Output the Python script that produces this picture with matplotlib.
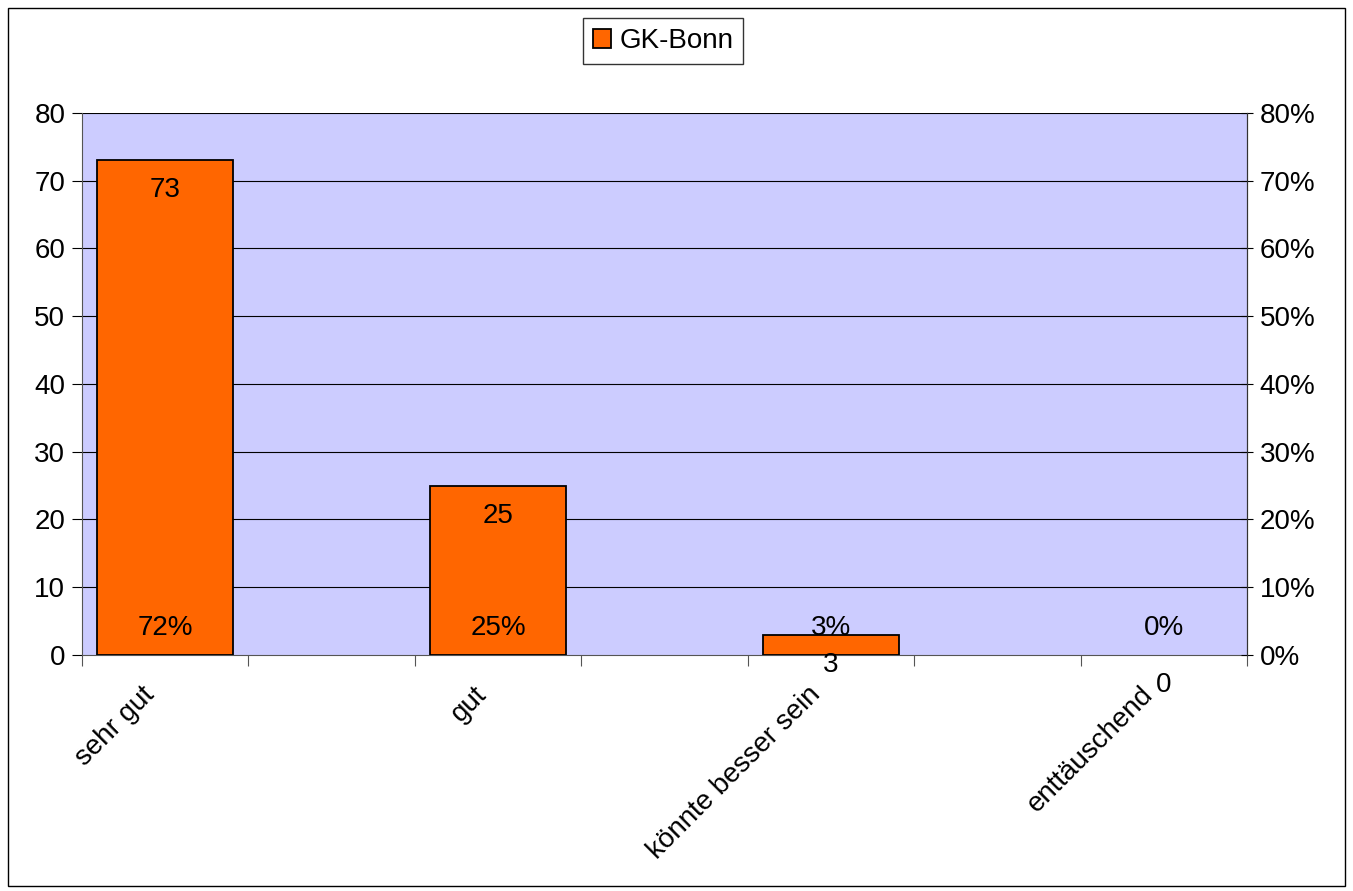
import numpy as np
import matplotlib
matplotlib.use("Agg")
import matplotlib.pyplot as plt
from matplotlib.patches import Rectangle
from matplotlib.transforms import ScaledTranslation

plt.rcParams['font.family'] = ['Liberation Sans', 'DejaVu Sans']

# data: 7 slots on the category axis, answers sit on every second one
categories = ['sehr gut', '', 'gut', '', 'könnte besser sein', '', 'enttäuschend']
answer_slots = [0, 2, 4, 6]
counts = [73, 25, 3, 0]
percent_labels = ['72%', '25%', '3%', '0%']
left_ticks = [0, 10, 20, 30, 40, 50, 60, 70, 80]
right_tick_labels = ['0%', '10%', '20%', '30%', '40%', '50%', '60%', '70%', '80%']
series_name = 'GK-Bonn'

bar_color = '#FF6600'
plot_bg = '#CCCCFF'
fs = 20

fig = plt.figure(figsize=(13.53, 8.91), dpi=100)
ax = fig.add_axes([0.0606, 0.2649, 0.8611, 0.6083])
ax.set_facecolor(plot_bg)

x = np.array(answer_slots)
bars = ax.bar(x, counts, width=0.82, color=bar_color, edgecolor='black',
              linewidth=1.3, zorder=3, label=series_name)
# a zero bar is not drawn at all
for b, c in zip(bars, counts):
    if c == 0:
        b.set_visible(False)

ax.set_xlim(-0.5, len(categories) - 0.5)
ax.set_ylim(0, 80)
ax.set_yticks(left_ticks)
ax.tick_params(axis='y', labelsize=fs, length=7, direction='out', pad=5)

# gridlines
for t in left_ticks[1:]:
    ax.axhline(t, color='black', linewidth=0.8, zorder=1)

# category axis: ticks between slots
ax.set_xticks(np.arange(-0.5, len(categories), 1.0))
ax.set_xticklabels([])
ax.set_xticks(np.arange(len(categories)), minor=True)
ax.set_xticklabels(categories, minor=True, rotation=45, ha='right',
                   rotation_mode='anchor', fontsize=fs)
ax.tick_params(axis='x', which='major', length=8, color='#555555')
ax.tick_params(axis='x', which='minor', length=0, pad=22)
shift = ScaledTranslation(-0.24, 0.04, fig.dpi_scale_trans)
for lab in ax.get_xticklabels(minor=True):
    lab.set_transform(lab.get_transform() + shift)

ax.spines['top'].set_visible(False)
ax.spines['left'].set_color('#555555')
ax.spines['bottom'].set_color('#555555')
ax.spines['right'].set_color('#333333')

# value labels
for xi, c in zip(x, counts):
    ax.annotate(str(c), (xi, c), xytext=(0, -30), textcoords='offset pixels',
                ha='center', va='center', fontsize=fs, zorder=5,
                annotation_clip=False)
for xi, p in zip(x, percent_labels):
    ax.annotate(p, (xi, 0), xytext=(0, 27), textcoords='offset pixels',
                ha='center', va='center', fontsize=fs, zorder=5)

# secondary axis in percent
ax2 = ax.twinx()
ax2.set_ylim(0, 80)
ax2.set_yticks(left_ticks)
ax2.set_yticklabels(right_tick_labels)
ax2.tick_params(axis='y', labelsize=fs, length=8, direction='inout', pad=5)
for s in ['top', 'left', 'bottom']:
    ax2.spines[s].set_visible(False)
ax2.spines['right'].set_color('#333333')

leg = fig.legend(handles=[bars], labels=[series_name], loc='upper center',
                 bbox_to_anchor=(0.49, 0.995), fontsize=fs, frameon=True,
                 fancybox=False, edgecolor='black', handlelength=0.65,
                 handleheight=0.65, handletextpad=0.3, borderpad=0.35)
leg.get_frame().set_linewidth(1.0)

fig.patches.append(Rectangle((0.006, 0.006), 0.988, 0.985, transform=fig.transFigure,
                             fill=False, edgecolor='black', linewidth=1.0))

fig.savefig('out.png', dpi=100)
